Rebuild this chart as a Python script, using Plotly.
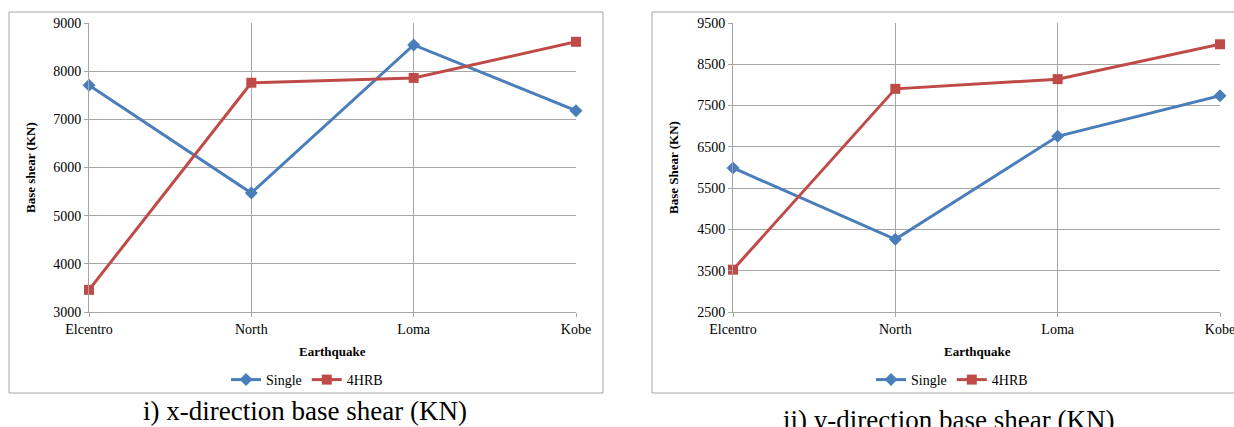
import plotly.graph_objects as go

W, H = 1234, 427

quakes = ["Elcentro", "North", "Loma", "Kobe"]
x_single = [7710, 5470, 8545, 7180]
x_4hrb = [3460, 7760, 7860, 8610]
y_single = [5990, 4260, 6755, 7740]
y_4hrb = [3525, 7905, 8140, 8985]

x_ticks = [3000, 4000, 5000, 6000, 7000, 8000, 9000]
y_ticks = [2500, 3500, 4500, 5500, 6500, 7500, 8500, 9500]

BLUE = "#4A7EBB"
RED = "#BE4B48"
GRID = "#A6A6A6"
FONT = "Liberation Serif, DejaVu Serif, Times New Roman, serif"

def px(v):
    return v / W

def py(v):
    return 1 - v / H

fig = go.Figure()

fig.add_trace(go.Scatter(x=quakes, y=x_single, name="Single", mode="lines+markers",
                         line=dict(color=BLUE, width=3), marker=dict(symbol="diamond", size=10, color=BLUE),
                         cliponaxis=False, xaxis="x", yaxis="y", legend="legend"))
fig.add_trace(go.Scatter(x=quakes, y=x_4hrb, name="4HRB", mode="lines+markers",
                         line=dict(color=RED, width=3), marker=dict(symbol="square", size=10, color=RED),
                         cliponaxis=False, xaxis="x", yaxis="y", legend="legend"))
fig.add_trace(go.Scatter(x=quakes, y=y_single, name="Single", mode="lines+markers",
                         line=dict(color=BLUE, width=3), marker=dict(symbol="diamond", size=10, color=BLUE),
                         cliponaxis=False, xaxis="x2", yaxis="y2", legend="legend2"))
fig.add_trace(go.Scatter(x=quakes, y=y_4hrb, name="4HRB", mode="lines+markers",
                         line=dict(color=RED, width=3), marker=dict(symbol="square", size=10, color=RED),
                         cliponaxis=False, xaxis="x2", yaxis="y2", legend="legend2"))

tickfont = dict(family=FONT, size=14, color="#000000")
common_x = dict(type="category", range=[0, 3], showgrid=True, gridcolor=GRID, gridwidth=1,
                showline=True, linecolor=GRID, linewidth=1, ticks="outside", ticklen=4,
                tickcolor=GRID, tickfont=tickfont, zeroline=False, fixedrange=True,
                automargin=False)
common_y = dict(showgrid=True, gridcolor=GRID, gridwidth=1, showline=True, linecolor=GRID,
                linewidth=1, ticks="outside", ticklen=4, tickcolor=GRID, tickfont=tickfont,
                zeroline=False, fixedrange=True, automargin=False)

ydom = [py(312), py(23)]

fig.update_layout(
    template="none",
    width=W, height=H,
    margin=dict(l=0, r=0, t=0, b=0, autoexpand=False),
    paper_bgcolor="white", plot_bgcolor="white",
    font=dict(family=FONT),
    xaxis=dict(domain=[px(89), px(576)], anchor="y", **common_x),
    yaxis=dict(domain=ydom, anchor="x", range=[3000, 9000], tickvals=x_ticks, **common_y),
    xaxis2=dict(domain=[px(733), px(1220)], anchor="y2", **common_x),
    yaxis2=dict(domain=ydom, anchor="x2", range=[2500, 9500], tickvals=y_ticks, **common_y),
    legend=dict(orientation="h", x=px(307), y=py(380), xanchor="center", yanchor="middle",
                font=dict(family=FONT, size=14, color="#000"), bgcolor="rgba(0,0,0,0)",
                itemwidth=30, tracegroupgap=0),
    legend2=dict(orientation="h", x=px(952), y=py(380), xanchor="center", yanchor="middle",
                 font=dict(family=FONT, size=14, color="#000"), bgcolor="rgba(0,0,0,0)",
                 itemwidth=30, tracegroupgap=0),
    showlegend=True,
)

# chart borders
fig.add_shape(type="rect", xref="paper", yref="paper", x0=px(9), x1=px(603), y0=py(393), y1=py(12),
              line=dict(color=GRID, width=1), layer="below")
fig.add_shape(type="rect", xref="paper", yref="paper", x0=px(652), x1=px(1240), y0=py(393), y1=py(12),
              line=dict(color=GRID, width=1), layer="below")

bold = dict(family=FONT, size=13, color="#000")
annots = [
    dict(text="<b>Earthquake</b>", x=px(332), y=py(351), font=bold),
    dict(text="<b>Earthquake</b>", x=px(977), y=py(351), font=bold),
    dict(text="<b>Base shear (KN)</b>", x=px(30), y=py(168), font=bold, textangle=-90),
    dict(text="<b>Base Shear (KN)</b>", x=px(673), y=py(168), font=bold, textangle=-90),
    dict(text="i) x-direction base shear (KN)", x=px(305), y=py(411),
         font=dict(family=FONT, size=27, color="#000")),
    dict(text="ii) y-direction base shear (KN)", x=px(948), y=py(420),
         font=dict(family=FONT, size=27, color="#000")),
]
for a in annots:
    fig.add_annotation(xref="paper", yref="paper", showarrow=False, xanchor="center",
                       yanchor="middle", **a)

fig.write_html("out.html")
